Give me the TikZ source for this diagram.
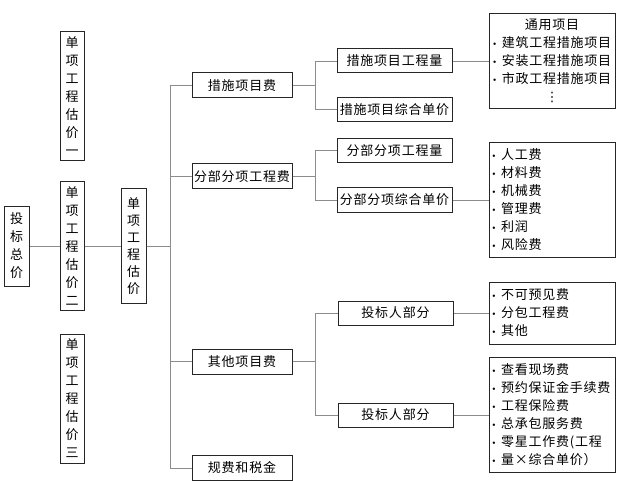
\documentclass[tikz,border=0pt]{standalone}
\usepackage{fontspec}
\newfontfamily\cjk[LetterSpace=6]{Noto Sans CJK SC}
\newfontfamily\sym{DejaVu Sans}
\newcommand\bul{\makebox[9pt][l]{\raisebox{2.5pt}{\tiny$\bullet$}}}

\begin{document}
\begin{tikzpicture}[x=1pt, y=-1pt,
	every node/.style={font=\cjk\fontsize{13}{18}\selectfont, inner sep=0pt},
	box/.style={draw=black!85, line width=1pt, fill=white},
	vbox/.style={box, align=center, minimum width=24pt, minimum height=129pt},
	hbox/.style={box, minimum width=100pt, minimum height=25pt},
	sbox/.style={box, minimum width=115pt, minimum height=24pt},
	lbox/.style={box, text width=120pt, align=left, inner xsep=3pt},
	line/.style={draw=black!45, line width=0.8pt}]
	\useasboundingbox (0,0) rectangle (626,481);

	\node[vbox, minimum width=25pt, minimum height=80pt]  (zongjia) at (16.5,246) {投\\标\\总\\价};
	\node[vbox]  (gu1) at (72,96.5)  {单\\项\\工\\程\\估\\价\\一};
	\node[vbox]  (gu2) at (72,246)   {单\\项\\工\\程\\估\\价\\二};
	\node[vbox]  (gu3) at (72,398.5) {单\\项\\工\\程\\估\\价\\三};
	\node[vbox, minimum width=25pt, minimum height=114pt, font=\cjk\fontsize{13}{17}\selectfont] (gu) at (133.5,246) {单\\项\\工\\程\\估\\价};

	\node[hbox]  (cuoshi) at (242,85.5)  {措施项目费};
	\node[hbox]  (fenbu)  at (242,176.5) {分部分项工程费};
	\node[hbox]  (qita)   at (242,361.5) {其他项目费};
	\node[hbox]  (guifei) at (242,468)   {规费和税金};

	\node[sbox]  (csl)  at (394.5,61)    {措施项目工程量};
	\node[sbox]  (csj)  at (394.5,109.5) {措施项目综合单价};
	\node[sbox]  (fbl)  at (394.5,150.5) {分部分项工程量};
	\node[sbox]  (fbj)  at (394.5,200)   {分部分项综合单价};
	\node[sbox]  (tbr1) at (395.5,313)   {投标人部分};
	\node[sbox]  (tbr2) at (395.5,415)   {投标人部分};

	\node[lbox, align=center, minimum height=95pt]  (tongyong) at (552,61)
		{通用项目\\\bul{}建筑工程措施项目\\\bul{}安装工程措施项目\\\bul{}市政工程措施项目\\{\sym ⋮}};
	\node[lbox, minimum height=114pt] (rengong) at (552,200)
		{\bul{}人工费\\\bul{}材料费\\\bul{}机械费\\\bul{}管理费\\\bul{}利润\\\bul{}风险费};
	\node[lbox, minimum height=62pt]  (yujian) at (552,313)
		{\bul{}不可预见费\\\bul{}分包工程费\\\bul{}其他};
	\node[lbox, minimum height=115pt] (chakan) at (552,415)
		{\bul{}查看现场费\\\bul{}预约保证金手续费\\\bul{}工程保险费\\\bul{}总承包服务费\\\bul{}零星工作费(工程\\\bul{}量×综合单价）};

	\path [line] (zongjia) edge (gu2);
	\path [line] (gu2) edge (gu);
	\draw [line] (gu.east) -- ++(24,0) |- (cuoshi.west);
	\draw [line] (gu.east) -- ++(24,0) |- (fenbu.west);
	\draw [line] (gu.east) -- ++(24,0) |- (qita.west);
	\draw [line] (gu.east) -- ++(24,0) |- (guifei.west);

	\draw [line] (cuoshi.east) -- ++(23,0) |- (csl.west);
	\draw [line] (cuoshi.east) -- ++(23,0) |- (csj.west);
	\draw [line] (fenbu.east) -- ++(23,0) |- (fbl.west);
	\draw [line] (fenbu.east) -- ++(23,0) |- (fbj.west);
	\draw [line] (qita.east) -- ++(23,0) |- (tbr1.west);
	\draw [line] (qita.east) -- ++(23,0) |- (tbr2.west);

	\path [line] (csl)  edge (tongyong);
	\path [line] (fbj)  edge (rengong);
	\path [line] (tbr1) edge (yujian);
	\path [line] (tbr2) edge (chakan);
\end{tikzpicture}
\end{document}
